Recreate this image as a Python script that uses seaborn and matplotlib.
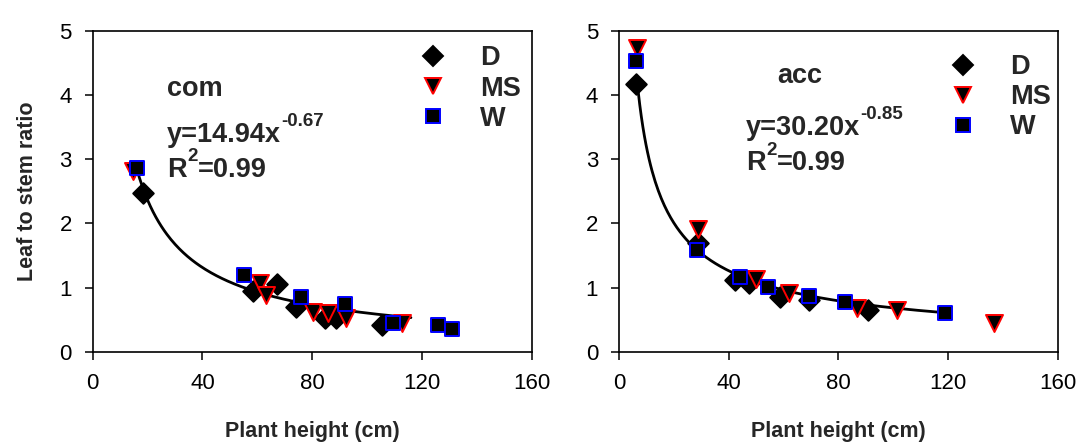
import numpy as np
import pandas as pd
import matplotlib
matplotlib.use("Agg")
import matplotlib.pyplot as plt
from matplotlib.lines import Line2D
import seaborn as sns

# ---------------- data ----------------
groups = ["D", "MS", "W"]

com_D_x = [18.2, 58.5, 67.3, 74.1, 84.6, 88.6, 105.3]
com_D_y = [2.47, 0.94, 1.05, 0.70, 0.52, 0.52, 0.42]
com_MS_x = [14.8, 60.9, 63.0, 80.4, 85.8, 92.5, 112.6]
com_MS_y = [2.81, 1.07, 0.88, 0.62, 0.60, 0.52, 0.44]
com_W_x = [16.0, 55.2, 76.1, 91.9, 109.5, 125.7, 131.1]
com_W_y = [2.86, 1.20, 0.86, 0.74, 0.45, 0.41, 0.36]

acc_D_x = [6.2, 28.8, 42.2, 47.4, 58.8, 69.4, 90.7]
acc_D_y = [4.18, 1.70, 1.12, 1.07, 0.86, 0.80, 0.65]
acc_MS_x = [6.4, 28.8, 50.1, 62.0, 86.7, 101.3, 136.7]
acc_MS_y = [4.73, 1.92, 1.14, 0.91, 0.68, 0.65, 0.45]
acc_W_x = [6.2, 28.5, 44.0, 54.3, 69.4, 82.4, 118.9]
acc_W_y = [4.54, 1.59, 1.17, 1.01, 0.87, 0.77, 0.60]

# power-law trend curves as drawn in each panel (a * x^b over x range)
com_curve = dict(a=30.20, b=-0.85, xmin=16.0, xmax=116.0)
acc_curve = dict(a=14.94, b=-0.67, xmin=7.0, xmax=119.0)

panel_titles = ["com", "acc"]
eq_base = ["y=14.94x", "y=30.20x"]
eq_exp = ["-0.67", "-0.85"]
r2_value = ["=0.99", "=0.99"]
x_ticks = [0, 40, 80, 120, 160]
y_ticks = [0, 1, 2, 3, 4, 5]
x_label = "Plant height (cm)"
y_label = "Leaf to stem ratio"

# ---------------- style ----------------
sns.set_style("ticks")
plt.rcParams["font.family"] = ["Liberation Sans", "DejaVu Sans"]

styles = {
    "D": dict(marker="D", edge="black", s=110, ms=10.5),
    "MS": dict(marker="v", edge="#ff0000", s=150, ms=12.2),
    "W": dict(marker="s", edge="#0000ff", s=110, ms=10.5),
}

FS = 19.5       # annotation font size
SUP = 13.5      # superscript font size
SUP_RISE = 15.5  # offset (pt) of superscript baseline from base bbox bottom

fig = plt.figure(figsize=(10.85, 4.47), dpi=100)
ax1 = fig.add_axes([0.0854, 0.2132, 0.4046, 0.7174])
ax2 = fig.add_axes([0.5705, 0.2132, 0.4046, 0.7174])

panels = [
    (ax1, {"D": (com_D_x, com_D_y), "MS": (com_MS_x, com_MS_y), "W": (com_W_x, com_W_y)}, com_curve),
    (ax2, {"D": (acc_D_x, acc_D_y), "MS": (acc_MS_x, acc_MS_y), "W": (acc_W_x, acc_W_y)}, acc_curve),
]

text_pos = [
    dict(title=(27.1, 3.98), eq=(27.1, 3.27), r2=(27.1, 2.73)),
    dict(title=(57.5, 4.19), eq=(46.2, 3.38), r2=(46.2, 2.83)),
]
legend_anchor = [(0.744, 0.955), (0.753, 0.928)]


def sup_text(ax, xy, base, sup, tail=None):
    t = ax.text(xy[0], xy[1], base, fontsize=FS, fontweight="bold",
                ha="left", va="baseline")
    s = ax.annotate(sup, xy=(1, 0), xycoords=t, xytext=(0.5, SUP_RISE),
                    textcoords="offset points", fontsize=SUP, fontweight="bold",
                    ha="left", va="baseline")
    if tail:
        ax.annotate(tail, xy=(1, 0), xycoords=(s, t), xytext=(0.3, 0),
                    textcoords="offset points", fontsize=FS, fontweight="bold",
                    ha="left", va="bottom")


for i, (ax, data, curve) in enumerate(panels):
    cx = np.linspace(curve["xmin"], curve["xmax"], 200)
    cdf = pd.DataFrame({"x": cx, "y": curve["a"] * cx ** curve["b"]})
    sns.lineplot(data=cdf, x="x", y="y", color="black", linewidth=2.0, ax=ax, zorder=2)

    for z, g in enumerate(groups):
        gx, gy = data[g]
        st = styles[g]
        sns.scatterplot(x=gx, y=gy, marker=st["marker"], color="black",
                        edgecolor=st["edge"], linewidth=1.4, s=st["s"],
                        ax=ax, zorder=3 + z, legend=False)

    ax.set_xlim(0, 160)
    ax.set_ylim(0, 5)
    ax.set_xticks(x_ticks)
    ax.set_yticks(y_ticks)
    ax.tick_params(direction="out", length=6, width=1.1, pad=9,
                   labelsize=16, colors="black")
    for sp in ax.spines.values():
        sp.set_visible(True)
        sp.set_linewidth(1.2)
        sp.set_color("black")

    ax.set_xlabel(x_label, fontsize=15.5, fontweight="bold", labelpad=20)
    if i == 0:
        ax.set_ylabel(y_label, fontsize=15.5, fontweight="bold", labelpad=15)
    else:
        ax.set_ylabel("")

    tp = text_pos[i]
    ax.text(*tp["title"], panel_titles[i], fontsize=FS, fontweight="bold",
            ha="left", va="baseline")
    sup_text(ax, tp["eq"], eq_base[i], eq_exp[i])
    sup_text(ax, tp["r2"], "R", "2", r2_value[i])

    handles = [Line2D([], [], linestyle="None", marker=styles[g]["marker"],
                      markerfacecolor="black", markeredgecolor=styles[g]["edge"],
                      markeredgewidth=1.4, markersize=styles[g]["ms"])
               for g in groups]
    ax.legend(handles, groups, loc="upper left",
              bbox_to_anchor=legend_anchor[i], frameon=False,
              prop={"size": FS, "weight": "bold"}, handlelength=1.0,
              handletextpad=1.24, labelspacing=0.15, borderpad=0,
              borderaxespad=0)

fig.savefig("out.png", dpi=100)
